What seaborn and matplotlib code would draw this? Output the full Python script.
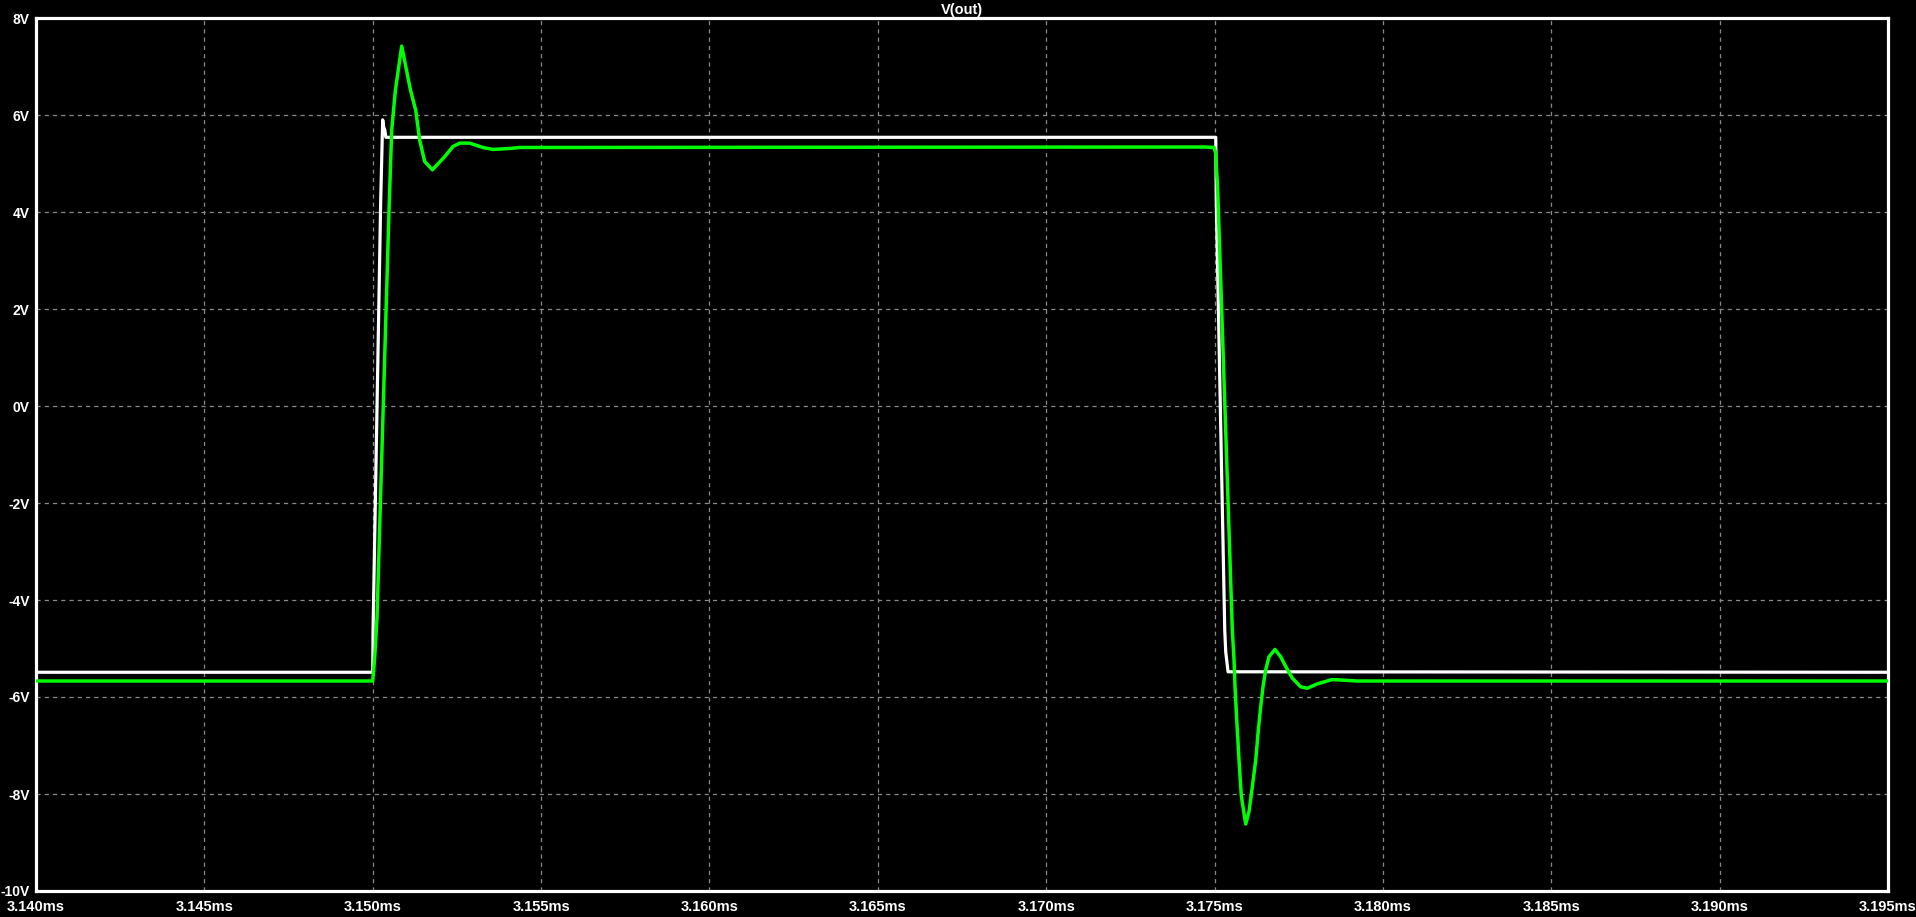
import matplotlib
matplotlib.use("Agg")
import matplotlib.pyplot as plt
import seaborn as sns
import pandas as pd
import numpy as np

# ---- data (time in ms, voltage in V) ----
white_t = [3.140, 3.15000, 3.15001, 3.150237, 3.150296, 3.150326, 3.150356, 3.15039,
           3.17500, 3.175036, 3.17505, 3.175303, 3.175332, 3.175401, 3.195]
white_v = [-5.49, -5.49, -4.62, 4.25, 5.90, 5.75, 5.70, 5.54,
           5.54, 5.54, 4.25, -4.62, -5.07, -5.48, -5.49]

green_t = [3.140, 3.15000, 3.150059, 3.150128, 3.150484, 3.150564, 3.150674, 3.150861,
           3.151119, 3.151276, 3.151395, 3.151543, 3.151772, 3.152136, 3.152383,
           3.152582, 3.152878, 3.153273, 3.153570, 3.154065, 3.154362,
           3.17470, 3.174985, 3.175036, 3.175053, 3.175083, 3.175104, 3.175528,
           3.175579, 3.175608, 3.175659, 3.175727, 3.175795, 3.175926, 3.176024,
           3.176122, 3.176223, 3.176300, 3.176371, 3.176439, 3.176519, 3.176617,
           3.176795, 3.176964, 3.177113, 3.177309, 3.177558, 3.177754, 3.178050,
           3.178496, 3.179238, 3.195]
green_v = [-5.67, -5.67, -5.18, -4.35, 4.04, 5.69, 6.52, 7.42,
           6.52, 6.10, 5.48, 5.04, 4.87, 5.14, 5.35,
           5.42, 5.42, 5.33, 5.29, 5.31, 5.33,
           5.34, 5.33, 5.21, 4.93, 4.62, 4.25, -4.62,
           -5.24, -5.79, -6.47, -7.30, -8.04, -8.62, -8.36,
           -7.85, -7.30, -6.68, -6.20, -5.79, -5.44, -5.17,
           -5.02, -5.17, -5.37, -5.61, -5.79, -5.82, -5.73,
           -5.64, -5.67, -5.67]

x_ticks = [3.140, 3.145, 3.150, 3.155, 3.160, 3.165, 3.170, 3.175, 3.180, 3.185, 3.190, 3.195]
x_labels = ["3.140ms", "3.145ms", "3.150ms", "3.155ms", "3.160ms", "3.165ms",
            "3.170ms", "3.175ms", "3.180ms", "3.185ms", "3.190ms", "3.195ms"]
y_ticks = [-10, -8, -6, -4, -2, 0, 2, 4, 6, 8]
y_labels = ["-10V", "-8V", "-6V", "-4V", "-2V", "0V", "2V", "4V", "6V", "8V"]
title = "V(out)"

sns.set_theme(style="dark")
fam = ["Liberation Sans", "DejaVu Sans"]
plt.rcParams["font.family"] = fam
plt.rcParams["figure.facecolor"] = "black"
plt.rcParams["axes.facecolor"] = "black"

fig = plt.figure(figsize=(19.16, 9.17), dpi=100)
ax = fig.add_axes([36 / 1916, 26 / 917, (1888 - 36) / 1916, (891 - 18) / 917])
ax.set_facecolor("black")

wdf = pd.DataFrame({"t": white_t, "v": white_v})
gdf = pd.DataFrame({"t": green_t, "v": green_v})
sns.lineplot(data=wdf, x="t", y="v", ax=ax, color="white", linewidth=2.3,
             estimator=None, sort=False, zorder=3)
sns.lineplot(data=gdf, x="t", y="v", ax=ax, color="#00ff00", linewidth=2.5,
             estimator=None, sort=False, zorder=4)

ax.set_xlim(3.140, 3.195)
ax.set_ylim(-10, 8)
ax.set_xticks(x_ticks)
ax.set_xticklabels(x_labels)
ax.set_yticks(y_ticks)
ax.set_yticklabels(y_labels)
ax.set_xlabel("")
ax.set_ylabel("")

ax.grid(True, color="#8a8a8a", linewidth=0.9, linestyle=(0, (3.3, 3.3)))
ax.set_axisbelow(True)

for s in ax.spines.values():
    s.set_visible(True)
    s.set_color("white")
    s.set_linewidth(2.3)

ax.tick_params(axis="x", direction="out", length=5.5, width=2.2, color="white",
               labelcolor="white", labelsize=10.5, pad=1)
ax.tick_params(axis="y", direction="out", length=4.5, width=2.2, color="white",
               labelcolor="white", labelsize=10, pad=0)
for lab in ax.get_xticklabels() + ax.get_yticklabels():
    lab.set_fontweight("bold")
    lab.set_family(fam)

ax.set_title(title, color="white", fontsize=10.5, fontweight="bold", pad=3, family=fam)

fig.savefig("out.png", dpi=100, facecolor="black")
